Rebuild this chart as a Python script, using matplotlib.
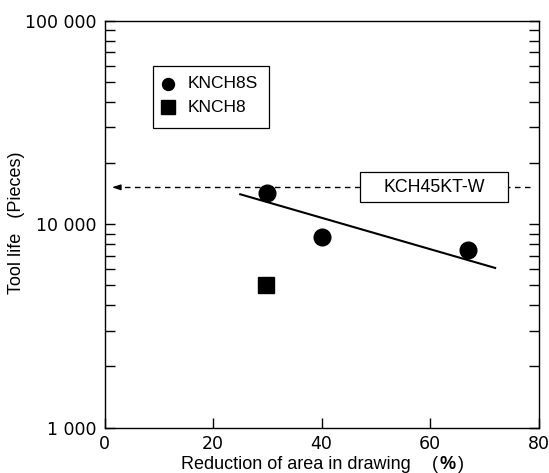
import matplotlib
matplotlib.use('Agg')
import matplotlib.pyplot as plt
from matplotlib.patches import Rectangle
from matplotlib.ticker import FixedLocator, NullFormatter

# ---- data ----
knch8s_x = [30, 40, 67]
knch8s_y = [14200, 8650, 7450]
knch8_x = [29.7]
knch8_y = [5050]
trend_x = [25, 72]
trend_y = [14050, 6100]
ref_level = 15200
ref_x = [78.5, 1.3]
ref_label = 'KCH45KT-W'
legend_labels = ['KNCH8S', 'KNCH8']
xticks = [0, 20, 40, 60, 80]
xtick_labels = ['0', '20', '40', '60', '80']
yticks = [1000, 10000, 100000]
ytick_labels = ['1 000', '10 000', '100 000']
yminor = [m * d for d in (1000, 10000) for m in range(2, 10)]

W, H = 549, 473
TXT = 'Liberation Sans'
NUM = 'DejaVu Sans'

fig = plt.figure(figsize=(W / 100, H / 100), dpi=100)
L, R, T, B = 104.7, 538.5, 21.0, 427.6
ax = fig.add_axes([L / W, 1 - B / H, (R - L) / W, (B - T) / H])
ax.set_yscale('log')
ax.set_xlim(0, 80)
ax.set_ylim(1000, 100000)

for s in ax.spines.values():
    s.set_linewidth(1.0)
    s.set_color('black')

ax.set_xticks(xticks)
ax.set_xticklabels(xtick_labels, family=NUM, fontsize=12.5)
ax.set_yticks(yticks)
ax.set_yticklabels(ytick_labels, family=NUM, fontsize=12.5)
ax.yaxis.set_minor_locator(FixedLocator(yminor))
ax.yaxis.set_minor_formatter(NullFormatter())
ax.tick_params(axis='both', which='both', direction='in', length=7.5, width=1.0,
               top=False, right=True, labelright=False, colors='black')
ax.tick_params(axis='x', pad=5)
ax.tick_params(axis='y', which='both', pad=6)

# trend line
ax.plot(trend_x, trend_y, color='black', lw=1.5, zorder=3)
# data points
ax.plot(knch8s_x, knch8s_y, 'o', color='black', ms=12, zorder=4)
ax.plot(knch8_x, knch8_y, 's', color='black', ms=11.3, zorder=4)

# dashed reference arrow
ax.plot([ref_x[0], ref_x[1] + 1.2], [ref_level, ref_level], color='black', lw=1.0,
        ls=(0, (4.0, 3.2)), zorder=2)
ax.annotate('', xy=(ref_x[1], ref_level), xytext=(ref_x[1] + 1.6, ref_level),
            arrowprops=dict(arrowstyle='-|>,head_length=0.5,head_width=0.16',
                            color='black', lw=1.0, shrinkA=0, shrinkB=0))

def ax_x(px):
    return (px - L) / (R - L)

def ax_y(py):
    return (B - py) / (B - T)

# KCH45KT-W box
bx0, bx1, by0, by1 = 360, 507.7, 172.3, 202.3
ax.add_patch(Rectangle((ax_x(bx0), ax_y(by1)), ax_x(bx1) - ax_x(bx0), ax_y(by0) - ax_y(by1),
                       transform=ax.transAxes, facecolor='white', edgecolor='black',
                       lw=0.9, zorder=5))
ax.text(ax_x((bx0 + bx1) / 2), ax_y((by0 + by1) / 2), ref_label, transform=ax.transAxes,
        ha='center', va='center', family=TXT, fontsize=12.8, zorder=6)

# legend (manual)
lx0, lx1, ly0, ly1 = 153.3, 269.3, 66, 128.3
ax.add_patch(Rectangle((ax_x(lx0), ax_y(ly1)), ax_x(lx1) - ax_x(lx0), ax_y(ly0) - ax_y(ly1),
                       transform=ax.transAxes, facecolor='white', edgecolor='black',
                       lw=0.9, zorder=5))
ax.plot([ax_x(168.3)], [ax_y(84)], 'o', color='black', ms=8.6, transform=ax.transAxes,
        zorder=6, clip_on=False)
ax.plot([ax_x(168.3)], [ax_y(107.3)], 's', color='black', ms=9.4, transform=ax.transAxes,
        zorder=6, clip_on=False)
ax.text(ax_x(187.3), ax_y(84), legend_labels[0], transform=ax.transAxes, ha='left',
        va='center', family=TXT, fontsize=12.5, zorder=6)
ax.text(ax_x(187.3), ax_y(107.3), legend_labels[1], transform=ax.transAxes, ha='left',
        va='center', family=TXT, fontsize=12.5, zorder=6)

# axis labels
fig.text(17 / W, 1 - 222.5 / H, 'Tool life   (Pieces)', rotation=90, ha='center',
         va='center', family=TXT, fontsize=13)
base = (H - 468.5) / H
fig.text(181 / W, base, 'Reduction of area in drawing', ha='left', va='baseline',
         family=TXT, fontsize=13)
fig.text(431.7 / W, base, '(', ha='left', va='baseline', family=TXT, fontsize=13)
fig.text(440 / W, base, '%', ha='left', va='baseline', family=TXT, fontsize=13,
         weight='bold')
fig.text(457.7 / W, base, ')', ha='left', va='baseline', family=TXT, fontsize=13)

fig.savefig('out.png', dpi=100)
